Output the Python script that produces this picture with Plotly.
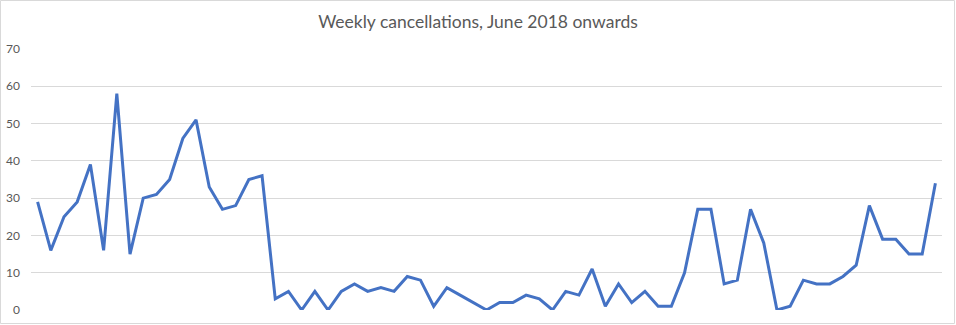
import plotly.graph_objects as go

weeks = list(range(1, 70))
cancellations = [29, 16, 25, 29, 39, 16, 58, 15, 30, 31,
                 35, 46, 51, 33, 27, 28, 35, 36, 3, 5,
                 0, 5, 0, 5, 7, 5, 6, 5, 9, 8,
                 1, 6, 4, 2, 0, 2, 2, 4, 3, 0,
                 5, 4, 11, 1, 7, 2, 5, 1, 1, 10,
                 27, 27, 7, 8, 27, 18, 0, 1, 8, 7,
                 7, 9, 12, 28, 19, 19, 15, 15, 34]
y_ticks = [0, 10, 20, 30, 40, 50, 60, 70]
title_text = "Weekly cancellations, June 2018 onwards"

fig = go.Figure()
fig.add_trace(go.Scatter(
    x=weeks, y=cancellations, mode="lines",
    line=dict(color="#4472C4", width=3),
    hoverinfo="y", showlegend=False,
))

L, R, T, B = 31, 14, 49, 15
W, H = 956, 325
pw, ph = W - L - R, H - T - B

fig.update_layout(
    width=W, height=H,
    margin=dict(l=L, r=R, t=T, b=B, pad=0, autoexpand=False),
    paper_bgcolor="white", plot_bgcolor="white",
    title=dict(text=title_text, x=0.5, xanchor="center", y=1 - 22 / H, yanchor="middle",
               font=dict(family="Lato", size=17.5, color="#595959")),
    xaxis=dict(range=[0.5, 69.5], showticklabels=False, showgrid=False,
               zeroline=False, showline=False, ticks="", automargin=False),
    yaxis=dict(range=[0, 70], tickvals=y_ticks, showgrid=True, gridcolor="#D9D9D9",
               gridwidth=1, zeroline=False, showline=False, ticks="",
               ticklabelstandoff=10, automargin=False,
               tickfont=dict(family="Lato", size=12, color="#595959")),
    shapes=[dict(type="rect", xref="paper", yref="paper",
                 x0=(0.5 - L) / pw, x1=(954.5 - L) / pw,
                 y0=(H - B - 323.5) / ph, y1=(H - B - 0.5) / ph,
                 line=dict(color="#D9D9D9", width=1), fillcolor="rgba(0,0,0,0)",
                 layer="below")],
)

fig.write_html("out.html")
